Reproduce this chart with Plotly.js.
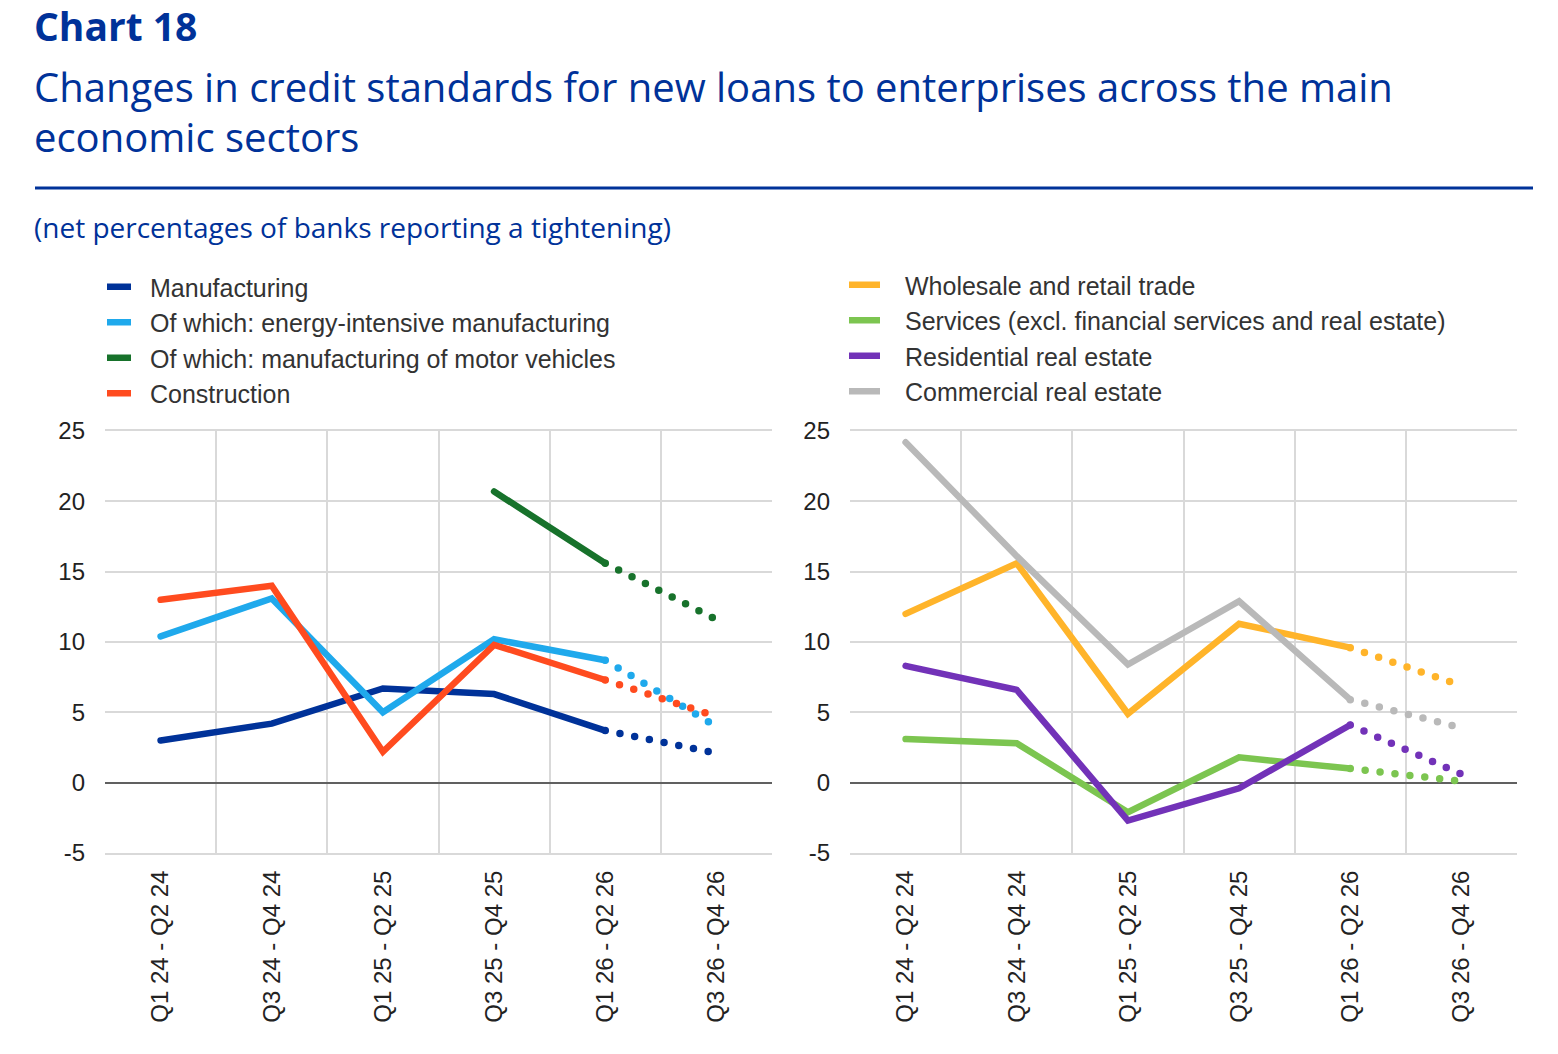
<!DOCTYPE html>
<html>
<head>
<meta charset="utf-8">
<script src="https://cdn.plot.ly/plotly-3.0.1.min.js"></script>
<style>
  html,body{margin:0;padding:0;background:#fff}
  #chart{width:1558px;height:1054px}
  /* round caps so the projection dash pattern draws as dots */
  .scatterlayer .js-line{stroke-linecap:round}
  /* short legend keys with a gap before the label */
  .legend .legendlines path{stroke-dasharray:24px,300px !important}
  .legend2 .legendlines path{stroke-dasharray:31px,300px !important}
</style>
</head>
<body>
<div id="chart"></div>
<script>
// ── Data (net percentages of banks reporting a tightening) ──────────────────
const periods = ['Q1 24 - Q2 24','Q3 24 - Q4 24','Q1 25 - Q2 25','Q3 25 - Q4 25','Q1 26 - Q2 26','Q3 26 - Q4 26'];
const yTickVals   = [-5, 0, 5, 10, 15, 20, 25];
const yTickLabels = ['-5', '0', '5', '10', '15', '20', '25'];

// left panel
const manufacturing   = [3.0, 4.2, 6.7, 6.3, 3.7, 2.1];
const energyIntensive = [10.4, 13.1, 5.0, 10.2, 8.7, 4.0];
const motorVehicles   = [null, null, null, 20.7, 15.6, 11.6];
const construction    = [13.0, 14.0, 2.2, 9.8, 7.3, 4.7];

// right panel
const wholesaleRetail = [12.0, 15.6, 4.9, 11.3, 9.6, 6.9];
const services        = [3.1, 2.8, -2.1, 1.8, 1.0, 0.1];
const residentialRE   = [8.3, 6.6, -2.7, -0.4, 4.1, 0.6];
const commercialRE    = [24.2, 16.1, 8.4, 12.9, 5.9, 3.9];

// last period is an expectation -> drawn dotted
const LAST_ACTUAL = 4;

const BLUE = '#003299';
const W = 1558, H = 1054;
const px = v => v / W, py = v => 1 - v / H;

function series(name, values, color, xa, ya, leg) {
  const base = {type:'scatter', mode:'lines', xaxis:xa, yaxis:ya, hoverinfo:'skip'};
  return [
    {...base, name, legend:leg, x:periods.slice(0, LAST_ACTUAL+1), y:values.slice(0, LAST_ACTUAL+1),
     line:{color, width:6.5}},
    {...base, name:name+' (expected)', showlegend:false, x:periods.slice(LAST_ACTUAL), y:values.slice(LAST_ACTUAL),
     line:{color, width:7.5, dash:'0px,15px'}}
  ];
}

const traces = [
  ...series('Manufacturing', manufacturing, '#003299', 'x', 'y', 'legend'),
  ...series('Of which: energy-intensive manufacturing', energyIntensive, '#1fa9ec', 'x', 'y', 'legend'),
  ...series('Of which: manufacturing of motor vehicles', motorVehicles, '#17722b', 'x', 'y', 'legend'),
  ...series('Construction', construction, '#ff4b1f', 'x', 'y', 'legend'),
  ...series('Wholesale and retail trade', wholesaleRetail, '#ffb42a', 'x2', 'y2', 'legend2'),
  ...series('Services (excl. financial services and real estate)', services, '#7cc550', 'x2', 'y2', 'legend2'),
  ...series('Residential real estate', residentialRE, '#7232b8', 'x2', 'y2', 'legend2'),
  ...series('Commercial real estate', commercialRE, '#b9b9b9', 'x2', 'y2', 'legend2'),
];

const tickFont = {family:'Liberation Sans, Arial, sans-serif', size:24, color:'#222'};
const xaxisBase = {
  type:'category', range:[-0.5, periods.length - 0.5], tickson:'boundaries',
  showgrid:true, gridcolor:'#d9d9d9', gridwidth:2,
  showline:true, linecolor:'#d9d9d9', linewidth:2, mirror:true, ticks:'', tickangle:-90,
  tickfont:tickFont, ticklabelstandoff:6, fixedrange:true
};
const yaxisBase = {
  range:[-5, 25], tickmode:'array', tickvals:yTickVals, ticktext:yTickLabels,
  showgrid:true, gridcolor:'#d9d9d9', gridwidth:2,
  zeroline:true, zerolinecolor:'#606060', zerolinewidth:1.8,
  ticks:'', tickfont:tickFont, ticklabelstandoff:19, fixedrange:true
};
const yDomain = [py(853), py(431)];

const legendBase = {
  orientation:'v', xanchor:'left', yanchor:'top', yref:'paper',
  font:{family:'Liberation Sans, Arial, sans-serif', size:25, color:'#333'},
  bgcolor:'rgba(0,0,0,0)', tracegroupgap:0, itemclick:false, itemdoubleclick:false
};

const titleFont = 'Open Sans, Noto Sans, sans-serif';
const layout = {
  width:W, height:H, margin:{l:0, r:0, t:0, b:0},
  paper_bgcolor:'#fff', plot_bgcolor:'#fff', showlegend:true,
  xaxis:{...xaxisBase, domain:[px(105), px(772)], anchor:'y'},
  xaxis2:{...xaxisBase, domain:[px(850), px(1517)], anchor:'y2'},
  yaxis:{...yaxisBase, domain:yDomain, anchor:'x'},
  yaxis2:{...yaxisBase, domain:yDomain, anchor:'x2'},
  legend:{...legendBase, itemwidth:38, x:px(102), y:py(264)},
  legend2:{...legendBase, itemwidth:51, x:px(844), y:py(262)},
  annotations:[
    {text:'<b>Chart 18</b>', xref:'paper', yref:'paper', x:px(32), y:py(26), xanchor:'left', yanchor:'middle',
     showarrow:false, font:{family:titleFont, size:39, color:BLUE}},
    {text:'Changes in credit standards for new loans to enterprises across the main', xref:'paper', yref:'paper',
     x:px(32), y:py(87), xanchor:'left', yanchor:'middle', showarrow:false, font:{family:titleFont, size:40, color:BLUE}},
    {text:'economic sectors', xref:'paper', yref:'paper',
     x:px(32), y:py(136), xanchor:'left', yanchor:'middle', showarrow:false, font:{family:titleFont, size:40, color:BLUE}},
    {text:'(net percentages of banks reporting a tightening)', xref:'paper', yref:'paper',
     x:px(32), y:py(227), xanchor:'left', yanchor:'middle', showarrow:false, font:{family:titleFont, size:28, color:BLUE}},
  ],
  shapes:[
    {type:'line', xref:'paper', yref:'paper', x0:px(35), x1:px(1533), y0:py(188), y1:py(188),
     line:{color:BLUE, width:3}}
  ]
};

Plotly.newPlot('chart', traces, layout, {staticPlot:true, displayModeBar:false});
</script>
</body>
</html>
